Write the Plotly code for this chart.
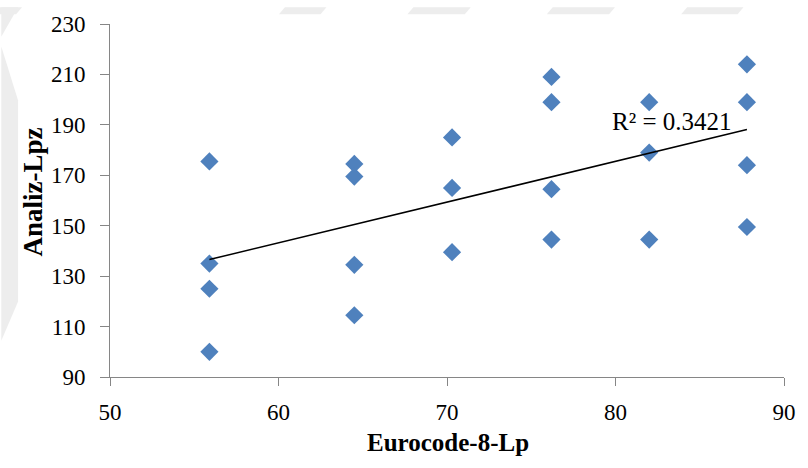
import numpy as np
import plotly.graph_objects as go

# Eurocode-8 plastic hinge length (x) vs. analytical plastic hinge length (y)
eurocode_lp = [55.9, 55.9, 55.9, 55.9,
               64.5, 64.5, 64.5, 64.5,
               70.3, 70.3, 70.3,
               76.2, 76.2, 76.2, 76.2,
               82.0, 82.0, 82.0,
               87.8, 87.8, 87.8, 87.8]
analiz_lpz = [175.5, 135.0, 125.0, 100.0,
              174.5, 169.5, 134.5, 114.5,
              185.0, 165.0, 139.5,
              209.0, 199.0, 164.5, 144.5,
              199.0, 179.0, 144.5,
              214.0, 199.0, 174.0, 149.5]

x_ticks = [50, 60, 70, 80, 90]
y_ticks = [90, 110, 130, 150, 170, 190, 210, 230]
r2_label = "R² = 0.3421"

# Linear trend line through the points
xa = np.array(eurocode_lp)
ya = np.array(analiz_lpz)
slope, intercept = np.polyfit(xa, ya, 1)
trend_x = [xa.min(), xa.max()]
trend_y = [slope * v + intercept for v in trend_x]

W, H = 808, 468
L, R, T, B = 110, 16, 17, 91
PW, PH = W - L - R, H - T - B

def px(xp):
    return (xp - L) / PW

def py(yp):
    return (H - B - yp) / PH

serif = "Liberation Serif, Times New Roman, serif"
axis_col = "#868686"

fig = go.Figure()
fig.add_trace(go.Scatter(
    x=eurocode_lp, y=analiz_lpz, mode="markers",
    marker=dict(symbol="diamond", size=14, color="#4F81BD"),
    showlegend=False, hoverinfo="x+y",
))
fig.add_trace(go.Scatter(
    x=trend_x, y=trend_y, mode="lines",
    line=dict(color="#000000", width=1.5),
    showlegend=False, hoverinfo="skip",
))

# faint background band around the chart frame
shapes = []
band = "#ededed"
for x0, x1 in [(-10, 15), (281, 323), (411, 469), (552, 615), (688, 745)]:
    path = (f"M {px(x0 + 6)} {py(0)} L {px(x1 + 6)} {py(0)} "
            f"L {px(x1)} {py(7)} L {px(x0)} {py(7)} Z")
    shapes.append(dict(type="path", path=path, xref="paper", yref="paper",
                       fillcolor=band, line=dict(width=0), layer="below"))
shapes.append(dict(type="path",
                   path=(f"M {px(0)} {py(40)} L {px(17)} {py(95)} L {px(17)} {py(300)} "
                         f"L {px(0)} {py(340)} Z"),
                   xref="paper", yref="paper", fillcolor=band,
                   line=dict(width=0), layer="below"))
shapes.append(dict(type="path",
                   path=f"M {px(0)} {py(0)} L {px(17)} {py(0)} L {px(0)} {py(30)} Z",
                   xref="paper", yref="paper", fillcolor=band,
                   line=dict(width=0), layer="below"))

fig.update_layout(
    width=W, height=H,
    margin=dict(l=L, r=R, t=T, b=B),
    paper_bgcolor="white", plot_bgcolor="white",
    font=dict(family=serif, size=23, color="#000000"),
    shapes=shapes,
    annotations=[
        dict(text=r2_label, x=83.35, y=191.5, xref="x", yref="y",
             showarrow=False, font=dict(family=serif, size=25, color="#000000")),
        dict(text="<b>Eurocode-8-Lp</b>", x=px(452), y=py(444), xref="paper",
             yref="paper", showarrow=False, xanchor="center", yanchor="middle",
             font=dict(family=serif, size=25)),
        dict(text="<b>Analiz-Lpz</b>", x=px(32), y=py(188), xref="paper",
             yref="paper", showarrow=False, xanchor="center", yanchor="middle",
             textangle=-90, font=dict(family=serif, size=27)),
    ],
    xaxis=dict(range=[50, 90], tickvals=x_ticks, ticks="outside", ticklen=8,
               tickcolor=axis_col, showline=True, linecolor=axis_col, linewidth=1,
               showgrid=False, zeroline=False, ticklabelstandoff=6,
               tickfont=dict(family=serif, size=23)),
    yaxis=dict(range=[90, 230], tickvals=y_ticks, ticks="outside", ticklen=9,
               tickcolor=axis_col, showline=True, linecolor=axis_col, linewidth=1,
               showgrid=False, zeroline=False, ticklabelstandoff=10,
               tickfont=dict(family=serif, size=23)),
)

fig.write_html("out.html")
